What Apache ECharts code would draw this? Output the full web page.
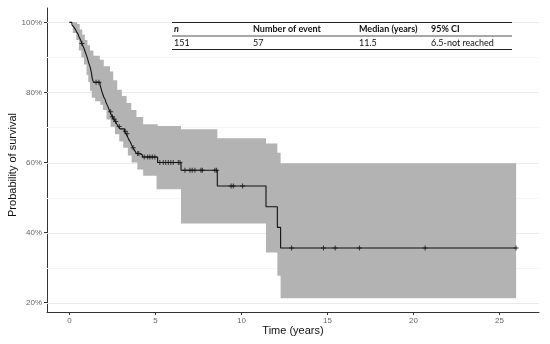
<!DOCTYPE html>
<html><head><meta charset="utf-8">
<script src="https://cdn.jsdelivr.net/npm/echarts@6/dist/echarts.min.js"></script>
<style>html,body{margin:0;padding:0;background:#fff}#c{width:550px;height:344px}</style>
</head><body><div id="c"></div>
<script>
// Kaplan-Meier steps: survival (%) after each event time (years)
const kmTimes = [0,0.15,0.25,0.35,0.42,0.5,0.55,0.62,0.68,0.72,0.78,0.85,0.9,0.95,1.0,1.05,1.08,1.12,1.17,1.22,1.25,1.28,1.33,1.40,1.78,1.82,1.86,1.90,1.95,2.0,2.08,2.12,2.18,2.25,2.30,2.36,2.42,2.50,2.58,2.68,2.75,2.85,2.95,3.2,3.3,3.38,3.45,3.55,3.62,3.7,3.8,3.9,4.05,4.24,5.13,6.49,8.60,11.43,12.09,12.28,25.97];
const kmSurv  = [100,99.3,98.7,98.0,97.3,96.7,96.0,95.3,94.6,94.0,93.3,92.6,91.9,91.2,90.5,89.8,89.2,88.5,87.8,87.1,86.4,85.7,84.0,82.9,82.2,81.5,80.8,80.1,79.4,78.7,78.0,77.3,76.6,75.9,75.2,74.5,73.8,73.1,72.4,71.7,71.0,70.3,69.6,68.9,68.2,67.4,66.6,65.8,65.0,64.2,63.4,62.6,62.2,61.6,60.0,57.8,53.3,47.4,41.5,35.6,35.6];
// censoring times (years)
const censorTimes = [0.73,1.55,1.72,2.4,2.5,2.6,2.7,2.9,3.25,3.35,3.71,3.97,4.04,4.35,4.55,4.68,4.82,4.97,5.26,5.46,5.60,5.75,5.90,6.04,6.33,6.43,6.72,7.01,7.14,7.30,7.65,7.73,8.46,8.56,9.40,9.53,10.07,12.92,14.77,15.45,16.86,20.68,25.97];
// 95% CI bounds (step values starting at the given times)
const ciUpperTimes = [0,0.45,0.6,0.75,0.9,1.05,1.2,1.4,1.77,2.0,2.36,2.55,2.78,3.05,3.33,3.6,3.9,4.29,5.13,6.49,8.6,11.43,12.09,12.28];
const ciUpper      = [100,99.5,98,96.5,95,93.5,92,90.5,89.3,87.5,86,83.5,80.8,79,77,75,73,70.9,70.4,69.5,66.9,65.4,62.8,59.8];
const ciLowerTimes = [0,0.2,0.4,0.55,0.7,0.85,1.0,1.1,1.2,1.3,1.5,1.8,1.95,2.16,2.4,2.65,2.9,3.13,3.4,3.62,3.95,4.29,5.07,6.49,11.43,12.09,12.28];
const ciLower      = [100,97,95,92,90,88,85,83,80.5,78.5,77.5,76.5,75,72.3,70.2,68.1,66,64.2,62,60,58,56.2,52.4,42.6,34.3,27.7,21.3];
const ciEnd = 25.97;
const xTicks = [0,5,10,15,20,25];
const yTicks = [20,40,60,80,100];
const yMinor = [30,50,70,90];
const tableHeader = ['n','Number of event','Median (years)','95% CI'];
const tableRow = ['151','57','11.5','6.5-not reached'];

const X_MIN = -1.3, X_MAX = 27.3;
function survAt(t){let s=kmSurv[0];for(let i=0;i<kmTimes.length;i++){if(kmTimes[i]<=t)s=kmSurv[i];else break;}return s;}
function stepPts(ts,vs,end){const p=[];for(let i=0;i<ts.length;i++){p.push([ts[i],vs[i]]);p.push([i+1<ts.length?ts[i+1]:end,vs[i]]);}return p;}

const chart = echarts.init(document.getElementById('c'));
const colX = [174,253,359,431];
const graphics = [];
[22.5,36,49.5].forEach((y,k)=>graphics.push({type:'line',shape:{x1:172,y1:y,x2:512,y2:y},style:{stroke:'#222',lineWidth:k===1?0.8:1.2},z:10}));
tableHeader.forEach((t,i)=>graphics.push({type:'text',x:colX[i],y:29.5,style:{text:t,fontFamily:'Lato',fontSize:9,fontWeight:'bold',fontStyle:i===0?'italic':'normal',fill:'#111',verticalAlign:'middle'},z:10}));
tableRow.forEach((t,i)=>graphics.push({type:'text',x:colX[i],y:43,style:{text:t,fontFamily:'Lato',fontSize:9,fill:'#111',verticalAlign:'middle'},z:10}));
graphics.push({type:'text',x:293,y:331,style:{text:'Time (years)',fontFamily:'Liberation Sans',fontSize:11,fill:'#111',align:'center',verticalAlign:'middle'}});
graphics.push({type:'text',x:13,y:165,rotation:Math.PI/2,style:{text:'Probability of survival',fontFamily:'Liberation Sans',fontSize:11,fill:'#111',align:'center',verticalAlign:'middle'}});

const gridData = yTicks.map(v=>[v,1]).concat(yMinor.map(v=>[v,0]));

chart.setOption({
  animation:false,
  grid:{left:47,right:11,top:8,bottom:32},
  xAxis:{type:'value',min:X_MIN,max:X_MAX,
    axisLine:{onZero:false,lineStyle:{color:'#333',width:1}},
    axisTick:{customValues:xTicks,length:3,lineStyle:{color:'#333'}},
    axisLabel:{customValues:xTicks,fontFamily:'Liberation Sans',fontSize:8,color:'#666',margin:5},
    splitLine:{show:false}},
  yAxis:{type:'value',min:17.35,max:104.1,
    axisLine:{show:true,onZero:false,lineStyle:{color:'#333',width:1}},
    axisTick:{show:true,customValues:yTicks,length:3,lineStyle:{color:'#333'}},
    axisLabel:{customValues:yTicks,formatter:v=>v+'%',fontFamily:'Liberation Sans',fontSize:8,color:'#666',margin:5},
    splitLine:{show:false}},
  graphic:graphics,
  series:[
    {type:'custom',z:1,silent:true,data:gridData,
      renderItem:(params,api)=>{
        const v=api.value(0), major=api.value(1);
        const a=api.coord([X_MIN,v]), b=api.coord([X_MAX,v]);
        const y=Math.round(a[1])+0.5;
        return {type:'line',shape:{x1:a[0],y1:y,x2:b[0],y2:y},style:{stroke:major?'#ebebeb':'#f5f5f5',lineWidth:1}};
      }},
    {type:'custom',z:2,clip:true,silent:true,data:[[0,100]],
      renderItem:(params,api)=>{
        const up=stepPts(ciUpperTimes,ciUpper,ciEnd);
        const lo=stepPts(ciLowerTimes,ciLower,ciEnd).reverse();
        const pts=up.concat(lo).map(p=>api.coord(p));
        return {type:'polygon',shape:{points:pts},style:{fill:'#b3b3b3',stroke:null}};
      }},
    {type:'line',z:3,step:'end',symbol:'none',data:kmTimes.map((t,i)=>[t,kmSurv[i]]),lineStyle:{color:'#111',width:1.1}},
    {type:'scatter',z:4,symbol:'path://M4,0L6,0L6,4L10,4L10,6L6,6L6,10L4,10L4,6L0,6L0,4L4,4Z',symbolSize:5,
      itemStyle:{color:'#111'},data:censorTimes.map(t=>[t,survAt(t)])}
  ]
});
</script></body></html>
